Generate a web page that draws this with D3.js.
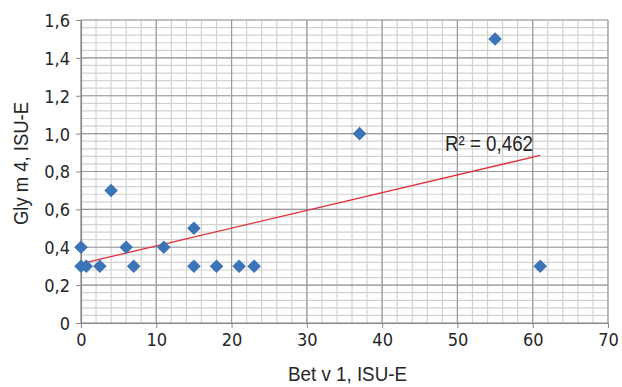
<!DOCTYPE html>
<html>
<head>
<meta charset="utf-8">
<script src="https://cdn.jsdelivr.net/npm/d3@7"></script>
<style>
  body { margin: 0; background: #fff; }
  text { fill: #262626; }
  .tick text { font-family: "DejaVu Sans Condensed", "DejaVu Sans", sans-serif; }
  .lbl { font-family: "Liberation Sans", Arial, sans-serif; }
</style>
</head>
<body>
<script>
const w = 622;
const h = 387;
const margin = {top: 20, right: 14, bottom: 64, left: 81};

// Bet v 1 (x) and Gly m 4 (y), ISU-E
const betV1 = [0, 0, 0.7, 2.5, 4, 6, 7, 11, 15, 15, 18, 21, 23, 37, 55, 61];
const glyM4 = [0.4, 0.3, 0.3, 0.3, 0.7, 0.4, 0.3, 0.4, 0.5, 0.3, 0.3, 0.3, 0.3, 1.0, 1.5, 0.3];
const xTicks = [0, 10, 20, 30, 40, 50, 60, 70];
const yTicks = [0, 0.2, 0.4, 0.6, 0.8, 1.0, 1.2, 1.4, 1.6];
const r2Label = "R² = 0,462";

const dataset = betV1.map((x, i) => ({x: x, y: glyM4[i]}));

const xScale = d3.scaleLinear().domain([0, 70]).range([margin.left, w - margin.right]);
const yScale = d3.scaleLinear().domain([0, 1.6]).range([h - margin.bottom, margin.top]);

const svg = d3.select("body").append("svg").attr("width", w).attr("height", h);

// minor grid, every 2 in x and 0.04 in y
svg.append("g").selectAll("line")
   .data(d3.range(0, 70.01, 2))
   .enter().append("line")
   .attr("x1", d => xScale(d)).attr("x2", d => xScale(d))
   .attr("y1", yScale(0)).attr("y2", yScale(1.6))
   .attr("stroke", "#d2d2d2").attr("stroke-width", 1.2);
svg.append("g").selectAll("line")
   .data(d3.range(0, 1.601, 0.04))
   .enter().append("line")
   .attr("x1", xScale(0)).attr("x2", xScale(70))
   .attr("y1", d => yScale(d)).attr("y2", d => yScale(d))
   .attr("stroke", "#d2d2d2").attr("stroke-width", 1.2);

// major grid
svg.append("g").selectAll("line")
   .data(xTicks)
   .enter().append("line")
   .attr("x1", d => xScale(d)).attr("x2", d => xScale(d))
   .attr("y1", yScale(0)).attr("y2", yScale(1.6))
   .attr("stroke", "#9a9a9a").attr("stroke-width", 1.2);
svg.append("g").selectAll("line")
   .data(yTicks)
   .enter().append("line")
   .attr("x1", xScale(0)).attr("x2", xScale(70))
   .attr("y1", d => yScale(d)).attr("y2", d => yScale(d))
   .attr("stroke", "#9a9a9a").attr("stroke-width", 1.2);

const fmt = d => d === 0 ? "0" : d3.format(".1f")(d).replace(".", ",");

const xAxis = d3.axisBottom(xScale).tickValues(xTicks).tickSize(5).tickPadding(5);
const yAxis = d3.axisLeft(yScale).tickValues(yTicks).tickFormat(fmt).tickSize(5).tickPadding(6);

const gx = svg.append("g")
   .attr("transform", "translate(0," + yScale(0) + ")")
   .call(xAxis);
const gy = svg.append("g")
   .attr("transform", "translate(" + xScale(0) + ",0)")
   .call(yAxis);
[gx, gy].forEach(g => {
  g.select(".domain").attr("stroke", "#8a8a8a").attr("stroke-width", 1.2);
  g.selectAll(".tick line").attr("stroke", "#8a8a8a");
  g.selectAll("text").style("font-size", "18px").attr("fill", "#262626");
});
gy.selectAll("text").attr("dy", "0.36em");

// linear trend line through the points
const mx = d3.mean(betV1), my = d3.mean(glyM4);
const slope = d3.sum(dataset, d => (d.x - mx) * (d.y - my)) / d3.sum(dataset, d => (d.x - mx) ** 2);
const intercept = my - slope * mx;
const x0 = d3.min(betV1), x1 = d3.max(betV1);

svg.append("line")
   .attr("x1", xScale(x0)).attr("y1", yScale(intercept + slope * x0))
   .attr("x2", xScale(x1)).attr("y2", yScale(intercept + slope * x1))
   .attr("stroke", "#e0303a").attr("stroke-width", 1.3);

// diamonds
svg.selectAll(".pt")
   .data(dataset)
   .enter().append("path")
   .attr("class", "pt")
   .attr("transform", d => "translate(" + xScale(d.x) + "," + yScale(d.y) + ")")
   .attr("d", "M0,-6.8L6.8,0L0,6.8L-6.8,0Z")
   .attr("fill", "#3c74b8");

// R² label (condensed look via textLength)
svg.append("text")
   .attr("class", "lbl")
   .attr("x", 445)
   .attr("y", 151)
   .attr("textLength", 88)
   .attr("lengthAdjust", "spacingAndGlyphs")
   .style("font-size", "22px")
   .text(r2Label);

// axis titles
svg.append("text")
   .attr("class", "lbl")
   .attr("x", 288)
   .attr("y", 381)
   .attr("textLength", 119)
   .attr("lengthAdjust", "spacingAndGlyphs")
   .style("font-size", "21px")
   .text("Bet v 1, ISU-E");

svg.append("text")
   .attr("class", "lbl")
   .attr("transform", "translate(28,225) rotate(-90)")
   .attr("textLength", 123)
   .attr("lengthAdjust", "spacingAndGlyphs")
   .style("font-size", "21px")
   .text("Gly m 4, ISU-E");
</script>
</body>
</html>
